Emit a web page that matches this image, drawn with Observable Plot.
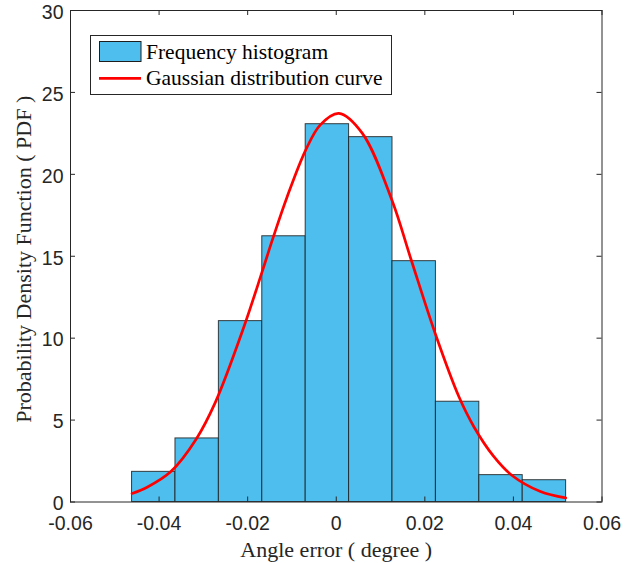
<!DOCTYPE html>
<html><head><meta charset="utf-8">
<script src="https://cdn.jsdelivr.net/npm/d3@7"></script>
<script src="https://cdn.jsdelivr.net/npm/@observablehq/plot@0.6"></script>
<style>body{margin:0;background:#fff} #chart{position:relative;width:642px;height:563px}</style>
</head><body><div id="chart"></div>
<script>
// ---- data ----
const binEdges = [-0.0461, -0.0363, -0.0265, -0.0167, -0.0069, 0.0029, 0.0127, 0.0225, 0.0323, 0.0421, 0.0519];
const binHeights = [1.84, 3.88, 11.04, 16.22, 23.06, 22.27, 14.70, 6.12, 1.64, 1.33];
const curveX = [-0.0461, -0.0427, -0.0374, -0.0316, -0.0273, -0.0209, -0.0168, -0.0142, -0.0111, -0.0069, -0.0036, 0.0006, 0.0059, 0.0126, 0.0168, 0.0225, 0.0277, 0.0311, 0.0355, 0.0397, 0.0461, 0.0518];
const curveY = [0.52, 0.90, 1.84, 3.85, 6.08, 10.65, 14.00, 16.18, 18.62, 21.48, 23.02, 23.72, 22.50, 18.40, 14.88, 10.16, 6.42, 4.58, 2.80, 1.62, 0.64, 0.25];
const xTicks = [-0.06, -0.04, -0.02, 0, 0.02, 0.04, 0.06];
const xTickLabels = ["-0.06", "-0.04", "-0.02", "0", "0.02", "0.04", "0.06"];
const yTicks = [0, 5, 10, 15, 20, 25, 30];
const yTickLabels = ["0", "5", "10", "15", "20", "25", "30"];
const xLabel = "Angle error ( degree )";
const yLabel = "Probability Density Function ( PDF )";
const legendLabels = ["Frequency histogram", "Gaussian distribution curve"];

const bins = binHeights.map((h, i) => ({x1: binEdges[i], x2: binEdges[i + 1], y: h}));
const curve = curveX.map((x, i) => ({x, y: curveY[i]}));

const W = 642, H = 563, mL = 70, mR = 40.5, mT = 10, mB = 61.5;
const innerH = H - mT - mB, innerW = W - mL - mR;
const tick = 5;
const ink = "#262626";
const serif = "'Liberation Serif', 'Times New Roman', serif";
const sans = "'Liberation Sans', Arial, sans-serif";

const plot = Plot.plot({
  width: W, height: H,
  marginLeft: mL, marginRight: mR, marginTop: mT, marginBottom: mB,
  style: {fontFamily: sans, fontSize: "19.5px", color: ink, background: "#fff"},
  x: {domain: [-0.06, 0.06]},
  y: {domain: [0, 30]},
  marks: [
    Plot.rect(bins, {x1: "x1", x2: "x2", y1: 0, y2: "y", fill: "#4dbeee", stroke: "#1e1e1e", strokeWidth: 1, strokeOpacity: 0.85}),
    Plot.line(curve, {x: "x", y: "y", stroke: "#ff0000", strokeWidth: 2.7, curve: "catmull-rom"}),
    Plot.frame({stroke: ink, strokeWidth: 1}),
    Plot.tickX(xTicks, {x: d => d, stroke: ink, insetTop: innerH - tick}),
    Plot.tickX(xTicks, {x: d => d, stroke: ink, insetBottom: innerH - tick}),
    Plot.tickY(yTicks, {y: d => d, stroke: ink, insetRight: innerW - tick}),
    Plot.tickY(yTicks, {y: d => d, stroke: ink, insetLeft: innerW - tick}),
    Plot.axisX(xTicks, {tickSize: 0, tickPadding: 14, label: null, fill: ink, fontSize: 19.5,
      tickFormat: d => xTickLabels[xTicks.indexOf(d)]}),
    Plot.axisY(yTicks, {tickSize: 0, tickPadding: 7, label: null, fill: ink, fontSize: 19.5, dy: 2,
      tickFormat: d => yTickLabels[yTicks.indexOf(d)]}),
    Plot.text([xLabel], {text: d => d, frameAnchor: "bottom", textAnchor: "middle", lineAnchor: "bottom", dy: 55.2,
      fontFamily: serif, fontSize: 22, fill: ink}),
    Plot.text([yLabel], {text: d => d, frameAnchor: "left", textAnchor: "middle", rotate: -90, lineAnchor: "bottom", dx: -40, dy: 3,
      fontFamily: serif, fontSize: 22, fill: ink})
  ]
});
document.getElementById("chart").appendChild(plot);

// ---- legend ----
const svg = d3.select(plot);
const g = svg.append("g").attr("text-anchor", "start");
g.append("rect").attr("x", 90.5).attr("y", 35.5).attr("width", 301).attr("height", 59)
  .attr("fill", "#fff").attr("stroke", ink).attr("stroke-width", 1);
g.append("rect").attr("x", 99.5).attr("y", 41.5).attr("width", 41.5).attr("height", 20)
  .attr("fill", "#4dbeee").attr("stroke", "#1e1e1e").attr("stroke-width", 1);
g.append("line").attr("x1", 99).attr("x2", 141).attr("y1", 78.3).attr("y2", 78.3)
  .attr("stroke", "#ff0000").attr("stroke-width", 2.7);
g.selectAll("text.lg").data(legendLabels).join("text")
  .attr("x", 146).attr("y", (d, i) => i === 0 ? 59.3 : 85)
  .attr("text-anchor", "start")
  .attr("font-family", serif).attr("font-size", 21.5).attr("fill", "#000")
  .text(d => d);
</script>
</body></html>
